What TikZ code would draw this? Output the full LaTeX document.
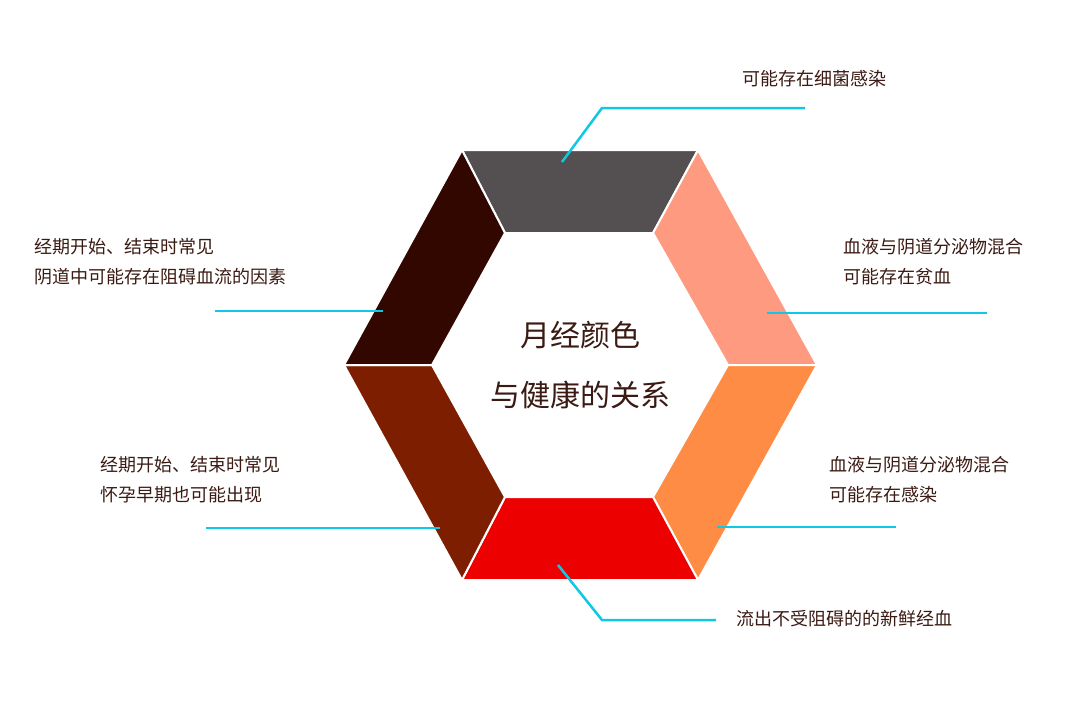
\documentclass[tikz,border=0pt]{standalone}
\usepackage{fontspec}
\setmainfont{Noto Sans CJK SC}
\definecolor{cseg1}{HTML}{545052}
\definecolor{cseg2}{HTML}{FE9A80}
\definecolor{cseg3}{HTML}{FE8C45}
\definecolor{cseg4}{HTML}{EC0000}
\definecolor{cseg5}{HTML}{7D1E00}
\definecolor{cseg6}{HTML}{320700}
\definecolor{cline}{HTML}{10C8E6}
\definecolor{ctext}{HTML}{3A1A12}
\begin{document}
\begin{tikzpicture}[x=1pt,y=-1pt,
  seg/.style={draw=white,line width=2pt,line join=round},
  lead/.style={draw=cline,line width=2.5pt},
  lbl/.style={anchor=west,text=ctext,font=\fontsize{18}{30}\selectfont,align=left,inner sep=0pt}]
\useasboundingbox (0,0) rectangle (1080,720);
% outer vertices
\coordinate (O1) at (462,150); \coordinate (O2) at (698,150); \coordinate (O3) at (817,365);
\coordinate (O4) at (698,580); \coordinate (O5) at (462,580); \coordinate (O6) at (344,365);
\coordinate (I1) at (505,233); \coordinate (I2) at (653,233); \coordinate (I3) at (728,365);
\coordinate (I4) at (653,497); \coordinate (I5) at (505,497); \coordinate (I6) at (432,365);
\fill[cseg1,seg] (O1)--(O2)--(I2)--(I1)--cycle;
\fill[cseg2,seg] (O2)--(O3)--(I3)--(I2)--cycle;
\fill[cseg3,seg] (O3)--(O4)--(I4)--(I3)--cycle;
\fill[cseg4,seg] (O4)--(O5)--(I5)--(I4)--cycle;
\fill[cseg5,seg] (O5)--(O6)--(I6)--(I5)--cycle;
\fill[cseg6,seg] (O6)--(O1)--(I1)--(I6)--cycle;
\node[text=ctext,font=\fontsize{30}{60}\selectfont,align=center] (c) at (580,365) {月经颜色\\与健康的关系};
% leaders
\coordinate (a1) at (562,162); \coordinate (a2) at (602,108); \coordinate (a3) at (805,108);
\draw[lead] (a1)--(a2)--(a3);
\coordinate (b1) at (767,313); \coordinate (b2) at (987,313); \draw[lead] (b1)--(b2);
\coordinate (d1) at (717,527); \coordinate (d2) at (896,527); \draw[lead] (d1)--(d2);
\coordinate (e1) at (558,565); \coordinate (e2) at (602,620); \coordinate (e3) at (716,620);
\draw[lead] (e1)--(e2)--(e3);
\coordinate (f1) at (440,528); \coordinate (f2) at (206,528); \draw[lead] (f1)--(f2);
\coordinate (g1) at (383,311); \coordinate (g2) at (215,311); \draw[lead] (g1)--(g2);
% labels
\node[lbl] (t1) at (742,79) {可能存在细菌感染};
\node[lbl] (t2) at (843,262) {血液与阴道分泌物混合\\可能存在贫血};
\node[lbl] (t3) at (829,480) {血液与阴道分泌物混合\\可能存在感染};
\node[lbl] (t4) at (736,619) {流出不受阻碍的的新鲜经血};
\node[lbl] (t5) at (100,480) {经期开始、结束时常见\\怀孕早期也可能出现};
\node[lbl] (t6) at (34,262) {经期开始、结束时常见\\阴道中可能存在阻碍血流的因素};
\end{tikzpicture}
\end{document}
